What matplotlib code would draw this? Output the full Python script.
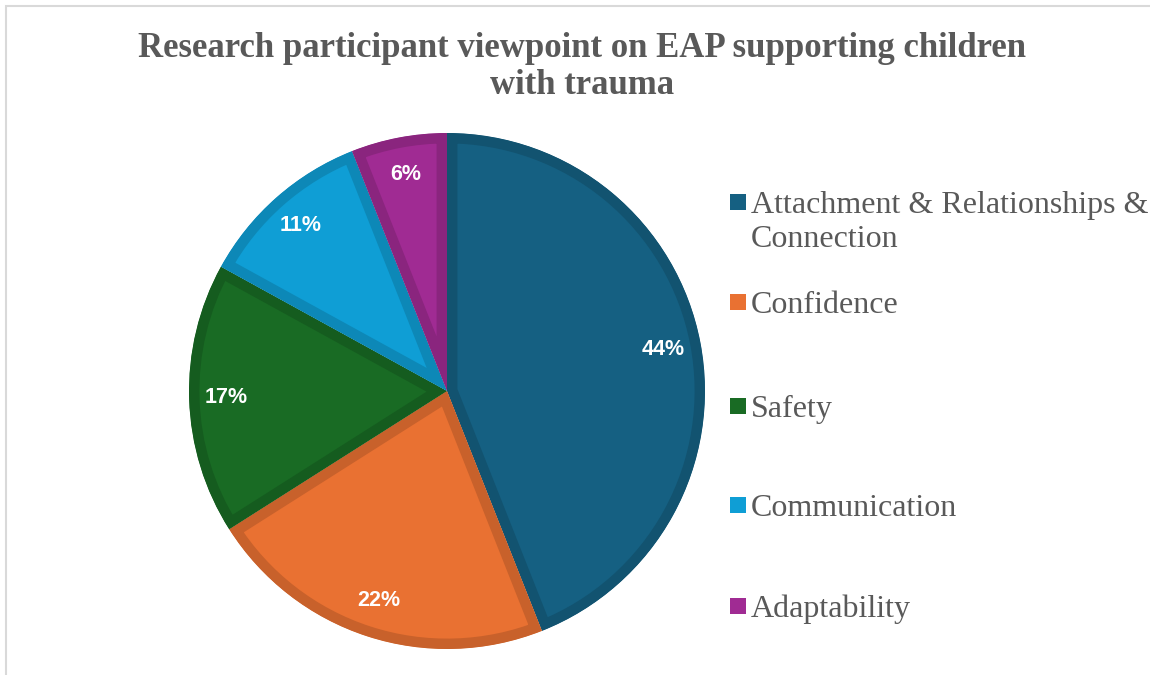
import numpy as np
import matplotlib.pyplot as plt
from matplotlib.colors import to_rgb
from matplotlib.patches import Rectangle

labels = ['Attachment & Relationships &\nConnection', 'Confidence', 'Safety',
          'Communication', 'Adaptability']
shares = [44, 22, 17, 11, 6]
colors = ['#156082', '#e97132', '#196b24', '#0f9ed5', '#a02b93']
title = 'Research participant viewpoint on EAP supporting children\nwith trauma'


def darker(c, f=0.86):
    return tuple(np.array(to_rgb(c)) * f)


def main():
    W, H = 1150, 675
    fig = plt.figure(figsize=(W / 100, H / 100), dpi=100)

    # light frame around the chart area
    fig.patches.append(Rectangle((6 / W, -0.01), 1.02, (H - 6) / H + 0.01,
                                 transform=fig.transFigure, fill=False,
                                 edgecolor='#d9d9d9', linewidth=1.5))

    cx, cy, r = 447, 391, 258
    ax = fig.add_axes([(cx - r) / W, (H - cy - r) / H, 2 * r / W, 2 * r / H])
    wedges, _, autotexts = ax.pie(
        shares, colors=colors, startangle=90, counterclock=False,
        autopct='%d%%', pctdistance=0.855,
        textprops=dict(color='white', fontsize=15.5, fontweight='bold',
                       family=['Liberation Sans']))
    for w, c in zip(wedges, colors):
        w.set_edgecolor(darker(c))
        w.set_linewidth(15)
        w.set_clip_path(w)
        w.set_clip_on(True)
    ax.set_xlim(-1, 1)
    ax.set_ylim(-1, 1)
    ax.set_aspect('equal')

    fig.text(582 / W, 1 - 67 / H, title, ha='center', va='center',
             fontsize=25, fontweight='bold', color='#595959',
             family=['Liberation Serif'], linespacing=1.15)

    # legend, drawn by hand so the marker sits on the first line
    ys = [202, 302, 406, 505, 606]
    for lab, c, y in zip(labels, colors, ys):
        fig.patches.append(Rectangle((730 / W, 1 - (y + 8) / H), 16 / W, 16 / H,
                                     transform=fig.transFigure,
                                     facecolor=c, edgecolor='none'))
        for i, line in enumerate(lab.split('\n')):
            fig.text(751 / W, 1 - (y + 11 + 34 * i) / H, line, ha='left',
                     va='baseline', fontsize=23, color='#595959',
                     family=['Liberation Serif'])

    plt.savefig('out.png', dpi=100)
    plt.close()


if __name__ == '__main__':
    main()
